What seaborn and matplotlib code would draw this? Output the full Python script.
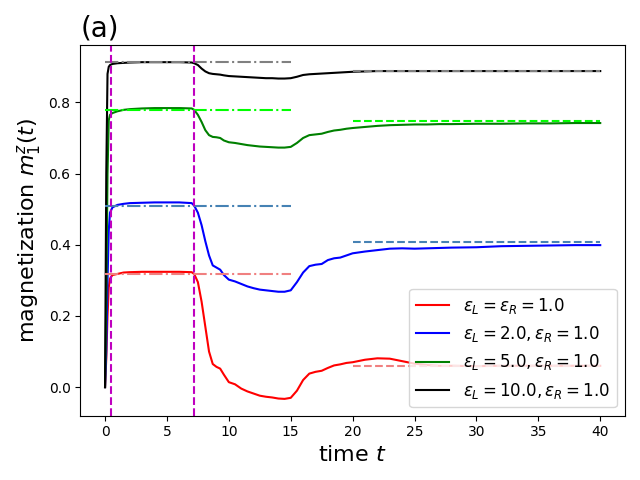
import numpy as np
import pandas as pd
import matplotlib
matplotlib.use("Agg")
import matplotlib.pyplot as plt
import seaborn as sns

# time grid shared by the four curves
t = [0, 0.1, 0.2, 0.3, 0.4, 0.6, 1.0, 1.5, 2, 3, 4, 5, 6, 7, 7.2, 7.5, 7.8,
     8.1, 8.4, 8.7, 9.0, 9.3, 9.6, 10, 10.5, 11, 11.5, 12, 12.5, 13, 13.5,
     14, 14.5, 15, 15.5, 16, 16.5, 17, 17.5, 18, 18.5, 19, 19.5, 20, 21, 22,
     23, 24, 25, 26, 27, 28, 30, 32, 34, 36, 38, 40]

m_eps1 = [0, 0.08, 0.2, 0.28, 0.305, 0.315, 0.318, 0.322, 0.323, 0.324, 0.324,
          0.324, 0.324, 0.323, 0.318, 0.295, 0.24, 0.17, 0.10, 0.065, 0.057,
          0.052, 0.035, 0.014, 0.008, -0.004, -0.012, -0.018, -0.024, -0.027,
          -0.029, -0.032, -0.033, -0.030, -0.010, 0.02, 0.038, 0.043, 0.046,
          0.054, 0.061, 0.064, 0.068, 0.07, 0.077, 0.081, 0.080, 0.073, 0.066,
          0.062, 0.06, 0.06, 0.059, 0.06, 0.06, 0.06, 0.06, 0.06]
m_eps2 = [0, 0.1, 0.3, 0.44, 0.49, 0.505, 0.512, 0.515, 0.517, 0.518, 0.519,
          0.519, 0.519, 0.517, 0.51, 0.49, 0.455, 0.41, 0.37, 0.342, 0.336,
          0.33, 0.315, 0.302, 0.297, 0.29, 0.283, 0.278, 0.274, 0.272, 0.270,
          0.268, 0.268, 0.272, 0.295, 0.322, 0.34, 0.344, 0.346, 0.357, 0.362,
          0.364, 0.37, 0.376, 0.381, 0.385, 0.389, 0.39, 0.389, 0.39, 0.391,
          0.392, 0.393, 0.396, 0.397, 0.398, 0.399, 0.399]
m_eps5 = [0, 0.25, 0.6, 0.75, 0.765, 0.77, 0.775, 0.779, 0.781, 0.783, 0.784,
          0.784, 0.784, 0.783, 0.779, 0.765, 0.745, 0.722, 0.708, 0.703, 0.702,
          0.700, 0.693, 0.688, 0.686, 0.683, 0.680, 0.678, 0.676, 0.675, 0.674,
          0.673, 0.673, 0.675, 0.686, 0.700, 0.708, 0.710, 0.712, 0.717, 0.721,
          0.723, 0.726, 0.728, 0.731, 0.734, 0.736, 0.737, 0.738, 0.738, 0.739,
          0.739, 0.740, 0.740, 0.741, 0.741, 0.742, 0.742]
m_eps10 = [0, 0.6, 0.88, 0.9, 0.905, 0.908, 0.910, 0.911, 0.912, 0.913, 0.913,
           0.913, 0.913, 0.912, 0.910, 0.905, 0.895, 0.887, 0.882, 0.880, 0.879,
           0.878, 0.876, 0.874, 0.873, 0.872, 0.871, 0.870, 0.869, 0.868, 0.868,
           0.867, 0.867, 0.868, 0.872, 0.877, 0.879, 0.880, 0.881, 0.882, 0.883,
           0.884, 0.885, 0.886, 0.887, 0.888, 0.888, 0.888, 0.888, 0.888, 0.888,
           0.888, 0.888, 0.888, 0.888, 0.888, 0.888, 0.888]

labels = [r"$\epsilon_L = \epsilon_R = 1.0$",
          r"$\epsilon_L = 2.0, \epsilon_R = 1.0$",
          r"$\epsilon_L = 5.0, \epsilon_R = 1.0$",
          r"$\epsilon_L = 10.0, \epsilon_R = 1.0$"]
colors = ["red", "blue", "green", "black"]
ref_colors = ["lightcoral", "steelblue", "lime", "gray"]

# reference levels: early plateau (0..15) and late steady state (20..40)
plateau = [0.319, 0.509, 0.778, 0.913]
steady = [0.0605, 0.4085, 0.748, 0.888]
quench_times = [0.5, 7.2]

df = pd.concat([
    pd.DataFrame({"t": t, "m": vals, "case": lab})
    for vals, lab in zip([m_eps1, m_eps2, m_eps5, m_eps10], labels)
])

fig, ax = plt.subplots(figsize=(6.4, 4.8))
sns.lineplot(data=df, x="t", y="m", hue="case", hue_order=labels,
             palette=dict(zip(labels, colors)), linewidth=1.5, ax=ax)

for p, s, c in zip(plateau, steady, ref_colors):
    ax.plot([0, 15], [p, p], linestyle="-.", color=c, linewidth=1.5)
    ax.plot([20, 40], [s, s], linestyle="--", color=c, linewidth=1.5)

for q in quench_times:
    ax.axvline(q, color="m", linestyle="--", linewidth=1.5)

ax.set_xticks([0, 5, 10, 15, 20, 25, 30, 35, 40])
ax.set_xlabel("time $t$", fontsize=16)
ax.set_ylabel("magnetization $m_1^z(t)$", fontsize=16)
ax.set_title("(a)", loc="left", fontsize=20)
ax.legend(loc="lower right", fontsize=12)

plt.tight_layout()
plt.savefig("out.png", dpi=100)
